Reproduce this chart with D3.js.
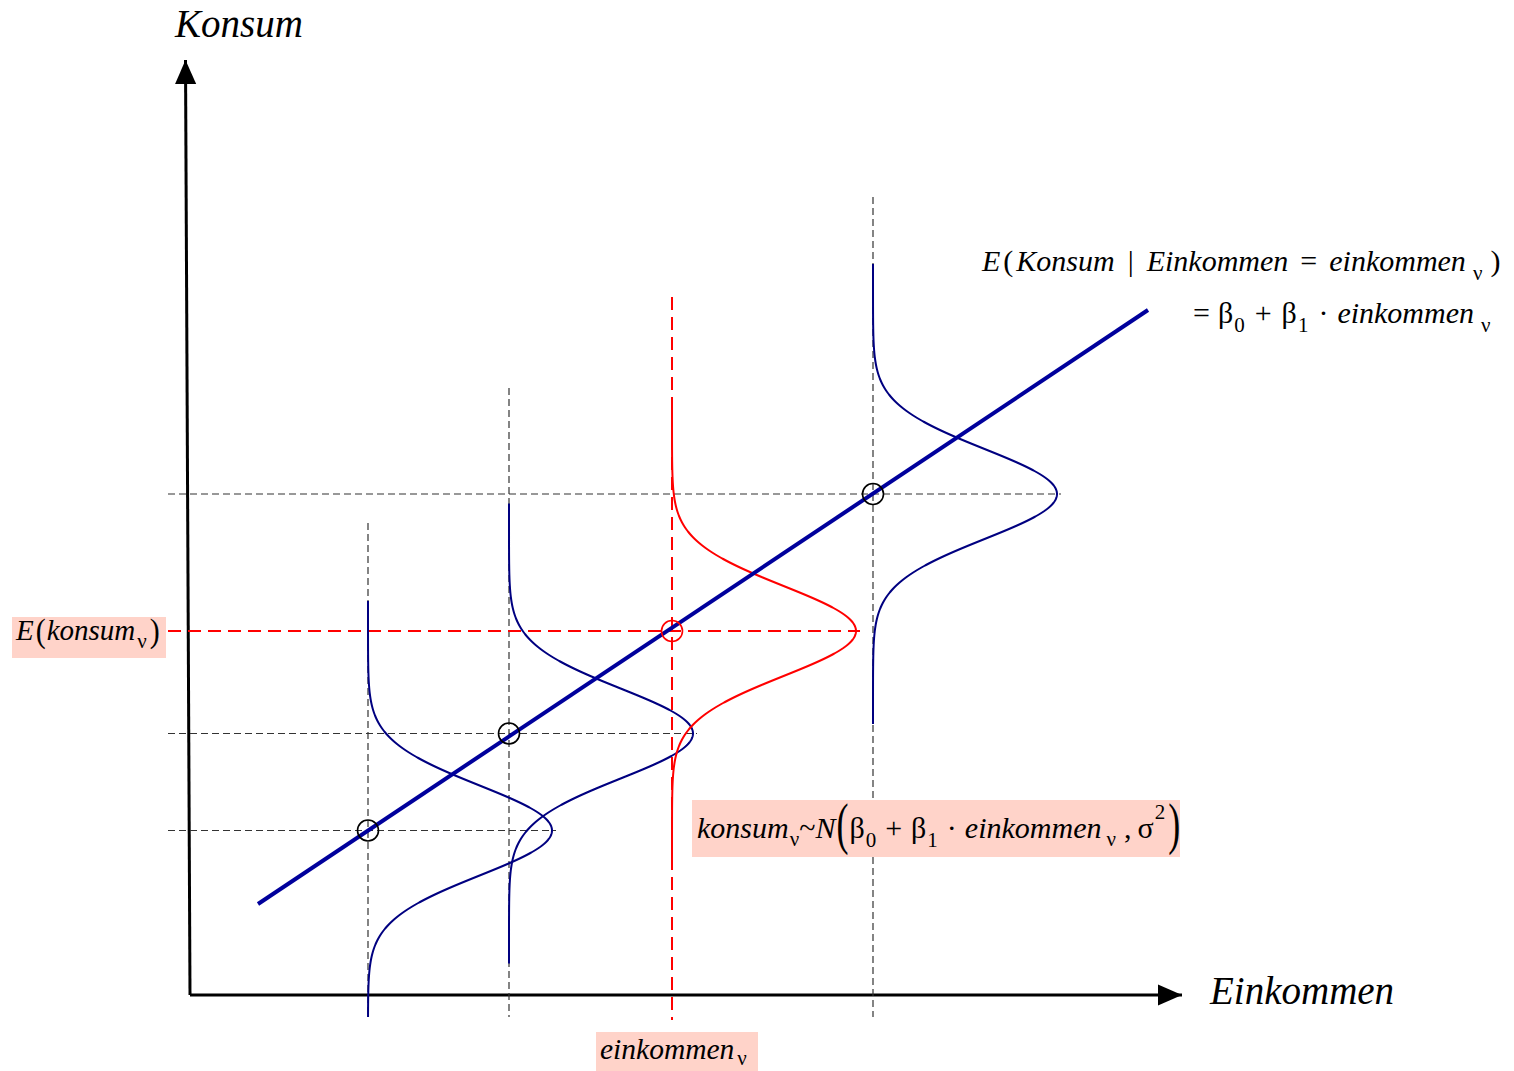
<!DOCTYPE html>
<html>
<head>
<meta charset="utf-8">
<script src="https://cdn.jsdelivr.net/npm/d3@7"></script>
<style>
  html, body { margin: 0; padding: 0; background: #fff; }
  svg { display: block; }
</style>
</head>
<body>
<svg id="chart" width="1514" height="1071"></svg>
<script>
// Income levels at which the conditional distribution of consumption is shown
const incomes = [17.8, 31.9, 48.2, 68.3];
// Conditional means of consumption at those incomes
const condMeans = [16.45, 26.15, 36.4, 50.1];
// Index of the highlighted observation ν
const highlightIndex = 2;
// Regression coefficients: E(Konsum | Einkommen) = beta0 + beta1 * Einkommen
const beta0 = 4.56;
const beta1 = 0.6674;
// Extent of the drawn regression line (income units)
const lineSpan = [6.8, 95.8];
// Normal density: standard deviation and drawn peak width (income units)
const sigma = 4.5;
const peakWidth = 18.4;
const curveSpan = 23;
// Upper ends of the vertical guide lines (consumption units)
const guideTops = [47.2, 60.7, 69.8, 79.8];
const guideBottom = -2.2;
const guideLeft = -2.2;
// Axis extents (data units); the y axis leans slightly
const xAxisEnd = 99.2;
const yAxisEnd = 93.5;
const yAxisTopX = -0.45;

const FONT = "'Liberation Serif', 'DejaVu Serif', 'Times New Roman', serif";

const svg = d3.select("#chart");
const x = d3.scaleLinear().domain([0, 100]).range([190, 1190]);
const y = d3.scaleLinear().domain([0, 100]).range([995, -5]);

const fit = v => beta0 + beta1 * v;
const blue = "#000080";
const red = "#ff0000";

// Axes with arrow heads
const defs = svg.append("defs");
defs.append("marker").attr("id", "arrow")
  .attr("viewBox", "0 0 10 10").attr("refX", 10).attr("refY", 5)
  .attr("markerWidth", 8).attr("markerHeight", 8).attr("markerUnits", "strokeWidth")
  .attr("orient", "auto")
  .append("path").attr("d", "M0,0.6 L10,5 L0,9.4 Z").attr("fill", "#000");

svg.append("line")
  .attr("x1", x(0)).attr("y1", y(0)).attr("x2", x(xAxisEnd)).attr("y2", y(0))
  .attr("stroke", "#000").attr("stroke-width", 3).attr("marker-end", "url(#arrow)");
svg.append("line")
  .attr("x1", x(0)).attr("y1", y(0)).attr("x2", x(yAxisTopX)).attr("y2", y(yAxisEnd))
  .attr("stroke", "#000").attr("stroke-width", 3).attr("marker-end", "url(#arrow)");

// Dashed guide lines
const guides = svg.append("g");
incomes.forEach((v, i) => {
  const hi = i === highlightIndex;
  const g = guides.append("g")
    .attr("stroke", hi ? red : "#333")
    .attr("stroke-width", hi ? 2 : 1.2)
    .attr("stroke-dasharray", hi ? "13,7" : "7,4");
  g.append("line")
    .attr("x1", x(v)).attr("x2", x(v))
    .attr("y1", y(guideTops[i])).attr("y2", y(hi ? guideBottom - 0.3 : guideBottom));
  g.append("line")
    .attr("x1", x(guideLeft)).attr("x2", x(v + peakWidth + 0.4))
    .attr("y1", y(condMeans[i])).attr("y2", y(condMeans[i]));
});

// Normal densities, drawn sideways around each conditional mean
const density = d3.line().x(d => x(d[0])).y(d => y(d[1]));
incomes.forEach((v, i) => {
  const mu = condMeans[i];
  const lo = Math.max(mu - curveSpan, guideBottom);
  const pts = d3.range(lo, mu + curveSpan + 0.001, 0.1)
    .map(t => [v + peakWidth * Math.exp(-((t - mu) ** 2) / (2 * sigma * sigma)), t]);
  svg.append("path")
    .attr("d", density(pts))
    .attr("fill", "none")
    .attr("stroke", i === highlightIndex ? red : blue)
    .attr("stroke-width", 2);
});

// Regression line
svg.append("line")
  .attr("x1", x(lineSpan[0])).attr("y1", y(fit(lineSpan[0])))
  .attr("x2", x(lineSpan[1])).attr("y2", y(fit(lineSpan[1])))
  .attr("stroke", "#00009c").attr("stroke-width", 4);

// Conditional means
svg.append("g").selectAll("circle").data(incomes).join("circle")
  .attr("cx", d => x(d)).attr("cy", (d, i) => y(condMeans[i])).attr("r", 10.5)
  .attr("fill", "none")
  .attr("stroke", (d, i) => i === highlightIndex ? red : "#000")
  .attr("stroke-width", 1.6);

// Formula typesetting: runs laid out left to right, each measured after drawing.
// g = gap before the run, b = baseline shift, s = font size, k = vertical stretch
function formula(x0, y0, size, parts) {
  let cx = x0;
  const grp = svg.append("g");
  parts.forEach(p => {
    cx += p.g || 0;
    const t = grp.append("text")
      .attr("font-family", FONT).attr("font-size", p.s || size).attr("fill", "#000")
      .attr("transform", `translate(${cx},${y0 + (p.b || 0)}) scale(1,${p.k || 1})`)
      .text(p.t);
    if (p.i) t.attr("font-style", "italic");
    cx += t.node().getComputedTextLength();
  });
  return grp;
}

// Axis titles
formula(175, 37, 39, [{ t: "Konsum", i: true }]);
formula(1210, 1004, 39, [{ t: "Einkommen", i: true }]);

// Regression equation
formula(982, 271, 30, [
  { t: "E", i: true }, { t: "(", g: 3 }, { t: "Konsum", i: true, g: 3 },
  { t: "|", g: 13 }, { t: "Einkommen", i: true, g: 13 },
  { t: "=", g: 12 }, { t: "einkommen", i: true, g: 12 },
  { t: "ν", s: 21, g: 7, b: 9 }, { t: ")", g: 8 }
]);
formula(1193, 323, 30, [
  { t: "=" }, { t: "β", g: 8 }, { t: "0", s: 21, g: 1, b: 9 },
  { t: "+", g: 10 }, { t: "β", g: 10 }, { t: "1", s: 21, g: 1, b: 9 },
  { t: "·", g: 10 }, { t: "einkommen", i: true, g: 9 },
  { t: "ν", s: 21, g: 7, b: 9 }
]);

// Highlighted labels on pink boxes
const pink = "#ffd3c9";
function box(bx, by, bw, bh) {
  svg.append("rect").attr("x", bx).attr("y", by).attr("width", bw).attr("height", bh).attr("fill", pink);
}

box(12, 617, 154, 41);
formula(16, 640, 29, [
  { t: "E", i: true }, { t: "(", g: 2, s: 30, b: 2, k: 1.12 }, { t: "konsum", i: true, g: 1 },
  { t: "ν", s: 21, g: 2, b: 8 }, { t: ")", g: 3, s: 30, b: 2, k: 1.12 }
]);

box(596, 1032, 162, 39);
formula(600, 1059, 29.5, [
  { t: "einkommen", i: true }, { t: "ν", s: 21, g: 3, b: 6 }
]);

box(692, 800, 488, 57);
formula(697, 838, 30, [
  { t: "konsum", i: true }, { t: "ν", s: 21, g: 1, b: 8 },
  { t: "~" }, { t: "N", i: true },
  { t: "(", g: 1, s: 36, b: 5, k: 1.6 }, { t: "β", g: 1 }, { t: "0", s: 21, g: 1, b: 9 },
  { t: "+", g: 9 }, { t: "β", g: 9 }, { t: "1", s: 21, g: 1, b: 9 },
  { t: "·", g: 9 }, { t: "einkommen", i: true, g: 8 },
  { t: "ν", s: 21, g: 5, b: 8 }, { t: ",", g: 8 }, { t: "σ", g: 6 },
  { t: "2", s: 21, g: 1, b: -19 }, { t: ")", g: 3, s: 36, b: 5, k: 1.6 }
]);
</script>
</body>
</html>
